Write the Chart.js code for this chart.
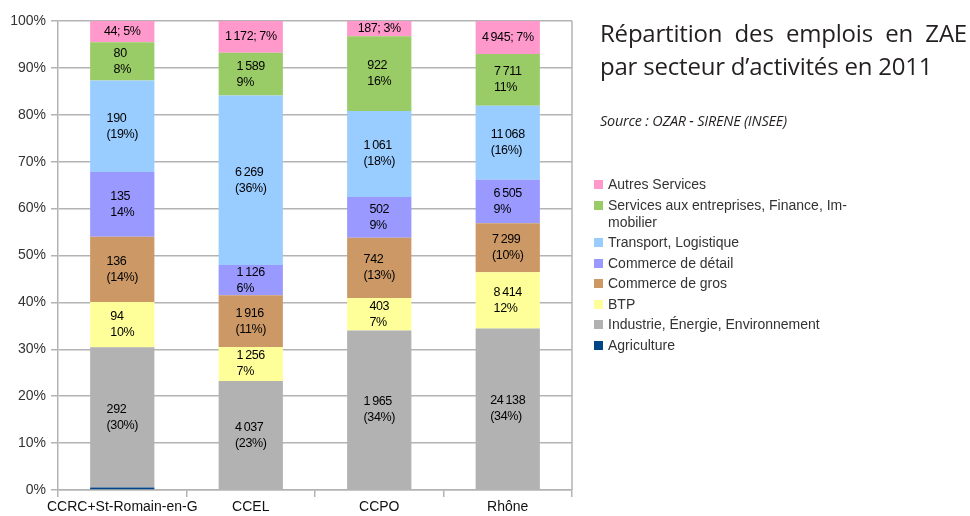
<!DOCTYPE html>
<html><head><meta charset="utf-8">
<script src="https://cdn.jsdelivr.net/npm/chart.js@4.4.1/dist/chart.umd.min.js"></script>
<style>
html,body{margin:0;padding:0;background:#fff;}
#wrap{position:relative;width:970px;height:516px;overflow:hidden;}
#c{position:absolute;left:0;top:0;}
#title{position:absolute;left:600px;top:16px;width:367px;font-family:"Open Sans",sans-serif;font-size:24px;line-height:33px;color:#231f20;letter-spacing:-0.2px;}
#title .l1{text-align:justify;text-align-last:justify;white-space:nowrap;}
#source{position:absolute;left:600px;top:111px;font-family:"Open Sans",sans-serif;font-style:italic;font-size:14.4px;color:#231f20;letter-spacing:-0.2px;}
#legend{position:absolute;left:594px;top:176px;font-family:"Liberation Sans",Arial,sans-serif;font-size:14px;color:#333;}
#legend .it{position:relative;padding-left:14px;line-height:17px;margin-bottom:3.5px;width:260px;}
#legend .sw{position:absolute;left:0;top:4px;width:9px;height:9px;}
</style></head>
<body><div id="wrap">
<canvas id="c" width="970" height="516"></canvas>
<div id="title"><div class="l1">Répartition des emplois en ZAE</div><div>par secteur d’activités en 2011</div></div>
<div id="source">Source : OZAR - SIRENE (INSEE)</div>
<div id="legend"></div>
</div>
<script>
const categories = ["CCRC+St-Romain-en-G", "CCEL", "CCPO", "Rhône"];
const seriesNames = ["Agriculture", "Industrie, Énergie, Environnement", "BTP", "Commerce de gros", "Commerce de détail", "Transport, Logistique", "Services aux entreprises, Finance, Immobilier", "Autres Services"];
const agriculture = [5, 0, 0, 0];
const industrie = [292, 4037, 1965, 24138];
const btp = [94, 1256, 403, 8414];
const commerceGros = [136, 1916, 742, 7299];
const commerceDetail = [135, 1126, 502, 6505];
const transport = [190, 6269, 1061, 11068];
const servicesEntreprises = [80, 1589, 922, 7711];
const autresServices = [44, 1172, 187, 4945];
const yTicks = [0, 10, 20, 30, 40, 50, 60, 70, 80, 90, 100];

const colors = ["#004586", "#b2b2b2", "#ffff99", "#cc9966", "#9999ff", "#99ccff", "#99cc66", "#ff99cc"];
// label style per series: 0 none, 1 "v\np%", 2 "v\n(p%)", 3 "v; p%"
const labelStyle = [0, 2, 1, 2, 1, 2, 1, 3];
const legendNames = ["Autres Services", "Services aux entreprises, Finance, Im-<br>mobilier", "Transport, Logistique", "Commerce de détail", "Commerce de gros", "BTP", "Industrie, Énergie, Environnement", "Agriculture"];

const raw = [agriculture, industrie, btp, commerceGros, commerceDetail, transport, servicesEntreprises, autresServices];
const totals = categories.map((_, i) => raw.reduce((s, a) => s + a[i], 0));

function fmt(n){ return String(n).replace(/\B(?=(\d{3})+(?!\d))/g, "\u2009"); }

const datasets = raw.map((arr, k) => ({
  label: seriesNames[k],
  data: arr.map((v, i) => v / totals[i] * 100),
  raw: arr,
  backgroundColor: colors[k],
  borderWidth: 0,
  barPercentage: 1.0,
  categoryPercentage: 0.5
}));

const lg = document.getElementById('legend');
const legendColors = colors.slice().reverse();
legendNames.forEach((n, i) => {
  const d = document.createElement('div'); d.className = 'it';
  d.innerHTML = '<span class="sw" style="background:' + legendColors[i] + '"></span>' + n;
  lg.appendChild(d);
});

const labelPlugin = {
  id: 'barLabels',
  afterDatasetsDraw(chart) {
    const ctx = chart.ctx;
    ctx.save();
    ctx.font = '12.5px "Liberation Sans", Arial, sans-serif';
    ctx.fillStyle = '#000';
    ctx.textBaseline = 'middle';
    try { ctx.letterSpacing = '-0.4px'; } catch(e) {}
    chart.data.datasets.forEach((ds, k) => {
      if (labelStyle[k] === 0) return;
      const meta = chart.getDatasetMeta(k);
      meta.data.forEach((bar, i) => {
        const v = ds.raw[i];
        if (!v) return;
        const p = Math.round(v / totals[i] * 100);
        let lines;
        if (labelStyle[k] === 1) lines = [fmt(v), p + '%'];
        else if (labelStyle[k] === 2) lines = [fmt(v), '(' + p + '%)'];
        else lines = [fmt(v) + '; ' + p + '%'];
        const w = Math.max(...lines.map(l => ctx.measureText(l).width));
        const cx = bar.x, cy = (bar.y + bar.base) / 2;
        const lh = 16;
        ctx.textAlign = 'left';
        lines.forEach((l, j) => {
          ctx.fillText(l, cx - w / 2, cy + (j - (lines.length - 1) / 2) * lh);
        });
      });
    });
    ctx.restore();
  }
};

const borderPlugin = {
  id: 'rightBorder',
  afterDraw(chart) {
    const a = chart.chartArea, ctx = chart.ctx;
    ctx.save();
    ctx.strokeStyle = '#b3b3b3'; ctx.lineWidth = 1.5;
    ctx.beginPath(); ctx.moveTo(a.right, a.top); ctx.lineTo(a.right, a.bottom); ctx.stroke();
    ctx.restore();
  }
};

new Chart(document.getElementById('c'), {
  type: 'bar',
  data: { labels: categories, datasets },
  plugins: [labelPlugin, borderPlugin],
  options: {
    responsive: false,
    animation: false,
    layout: { padding: { left: 0, right: 398, top: 21, bottom: 0 } },
    plugins: { legend: { display: false }, tooltip: { enabled: false }, title: { display: false } },
    scales: {
      x: {
        stacked: true,
        grid: { offset: true, drawOnChartArea: false, drawTicks: true, tickLength: 7, color: '#b3b3b3', lineWidth: 1.5 },
        border: { color: '#b3b3b3', width: 1.5 },
        ticks: { color: '#111', font: { family: '"Liberation Sans", Arial, sans-serif', size: 14 }, padding: 2, maxRotation: 0, minRotation: 0, autoSkip: false },
        afterFit(s) { s.height = 26; s.paddingLeft = 0; s.paddingRight = 0; }
      },
      y: {
        stacked: true, min: 0, max: 100,
        afterBuildTicks(s) { s.ticks = yTicks.map(v => ({ value: v })); },
        grid: { color: '#b3b3b3', lineWidth: 1.5, tickLength: 7 },
        border: { color: '#b3b3b3', width: 1.5 },
        ticks: { color: '#333', font: { family: '"Liberation Sans", Arial, sans-serif', size: 14 }, padding: 5, callback: v => v + '%' },
        afterFit(s) { s.width = 58; }
      }
    }
  }
});
</script>
</body></html>
